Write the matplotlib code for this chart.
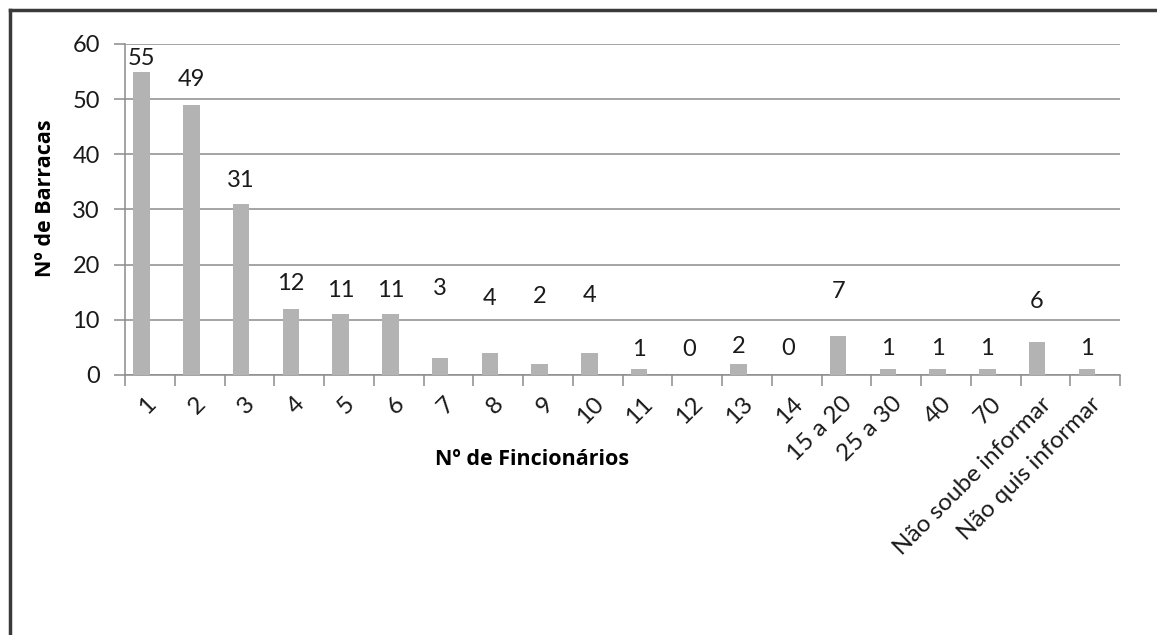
import numpy as np
import matplotlib
matplotlib.use('Agg')
import matplotlib.pyplot as plt
import matplotlib.transforms as mtransforms
from matplotlib.lines import Line2D

plt.rcParams['font.family'] = ['Lato', 'DejaVu Sans']

categorias = ['1', '2', '3', '4', '5', '6', '7', '8', '9', '10', '11', '12', '13', '14',
              '15 a 20', '25 a 30', '40', '70', 'Não soube informar', 'Não quis informar']
barracas = [55, 49, 31, 12, 11, 11, 3, 4, 2, 4, 1, 0, 2, 0, 7, 1, 1, 1, 6, 1]
# altura (em unidades do eixo) onde cada rótulo foi colocado no gráfico original
rotulo_y = [57.4, 53.6, 35.3, 16.6, 15.3, 15.3, 15.6, 13.8, 14.3, 14.5,
            4.7, 4.7, 5.1, 4.8, 15.1, 4.8, 4.8, 4.8, 13.3, 4.8]

fig = plt.figure(figsize=(11.57, 6.35), dpi=100)
ax = fig.add_axes([125 / 1157, 1 - 375 / 635, 995 / 1157, 331 / 635])

n = len(categorias)
x = np.arange(n)
largura = 1 / 3
pos = x - largura / 2  # segunda série vazia ocupa a outra metade

ax.bar(pos, barracas, width=largura, color='#b3b3b3', zorder=3)

for xi, v, yl in zip(pos, barracas, rotulo_y):
    ax.text(xi, yl, str(v), ha='center', va='center', fontsize=17, color='#1a1a1a')

ax.set_xlim(-0.5, n - 0.5)
ax.set_ylim(0, 60)
ax.set_yticks(range(0, 61, 10))
ax.yaxis.grid(True, color='#8c8c8c', linewidth=1.1, zorder=0)
ax.set_axisbelow(True)

for s in ['top', 'right']:
    ax.spines[s].set_visible(False)
for s in ['left', 'bottom']:
    ax.spines[s].set_color('#8c8c8c')
    ax.spines[s].set_linewidth(1.1)

ax.set_xticks(x)
ax.set_xticklabels(categorias)
ax.set_xticks(np.arange(n + 1) - 0.5, minor=True)
ax.tick_params(axis='x', which='major', length=0, pad=13, labelsize=17.5, labelcolor='#1a1a1a')
ax.tick_params(axis='x', which='minor', length=8, width=1.1, color='#8c8c8c')
ax.tick_params(axis='y', length=8, width=1.1, color='#8c8c8c', pad=10, labelsize=17,
               labelcolor='#1a1a1a')
desloc = mtransforms.ScaledTranslation(-5 / 100, 0, fig.dpi_scale_trans)
for lab in ax.get_xticklabels():
    lab.set_rotation(45)
    lab.set_ha('right')
    lab.set_va('top')
    lab.set_rotation_mode('anchor')
    lab.set_transform(lab.get_transform() + desloc)

ax.set_xlabel('Nº de Fincionários', fontsize=15.5, fontweight='bold', va='center',
              family=['Open Sans', 'DejaVu Sans'])
ax.xaxis.set_label_coords((532 - 125) / 995, (375 - 460) / 331)
ax.set_ylabel('Nº de Barracas', fontsize=15.5, fontweight='bold', va='center',
              family=['Open Sans', 'DejaVu Sans'])
ax.yaxis.set_label_coords((46 - 125) / 995, (375 - 198) / 331)

# moldura do gráfico (cortada à direita e embaixo)
fig.add_artist(Line2D([9.5 / 1157, 9.5 / 1157], [0, 1 - 9.5 / 635], transform=fig.transFigure,
                      color='#3a3a3a', linewidth=2.5))
fig.add_artist(Line2D([9.5 / 1157, 1], [1 - 9.5 / 635, 1 - 9.5 / 635], transform=fig.transFigure,
                      color='#3a3a3a', linewidth=2.5))

fig.savefig('out.png', dpi=100)
